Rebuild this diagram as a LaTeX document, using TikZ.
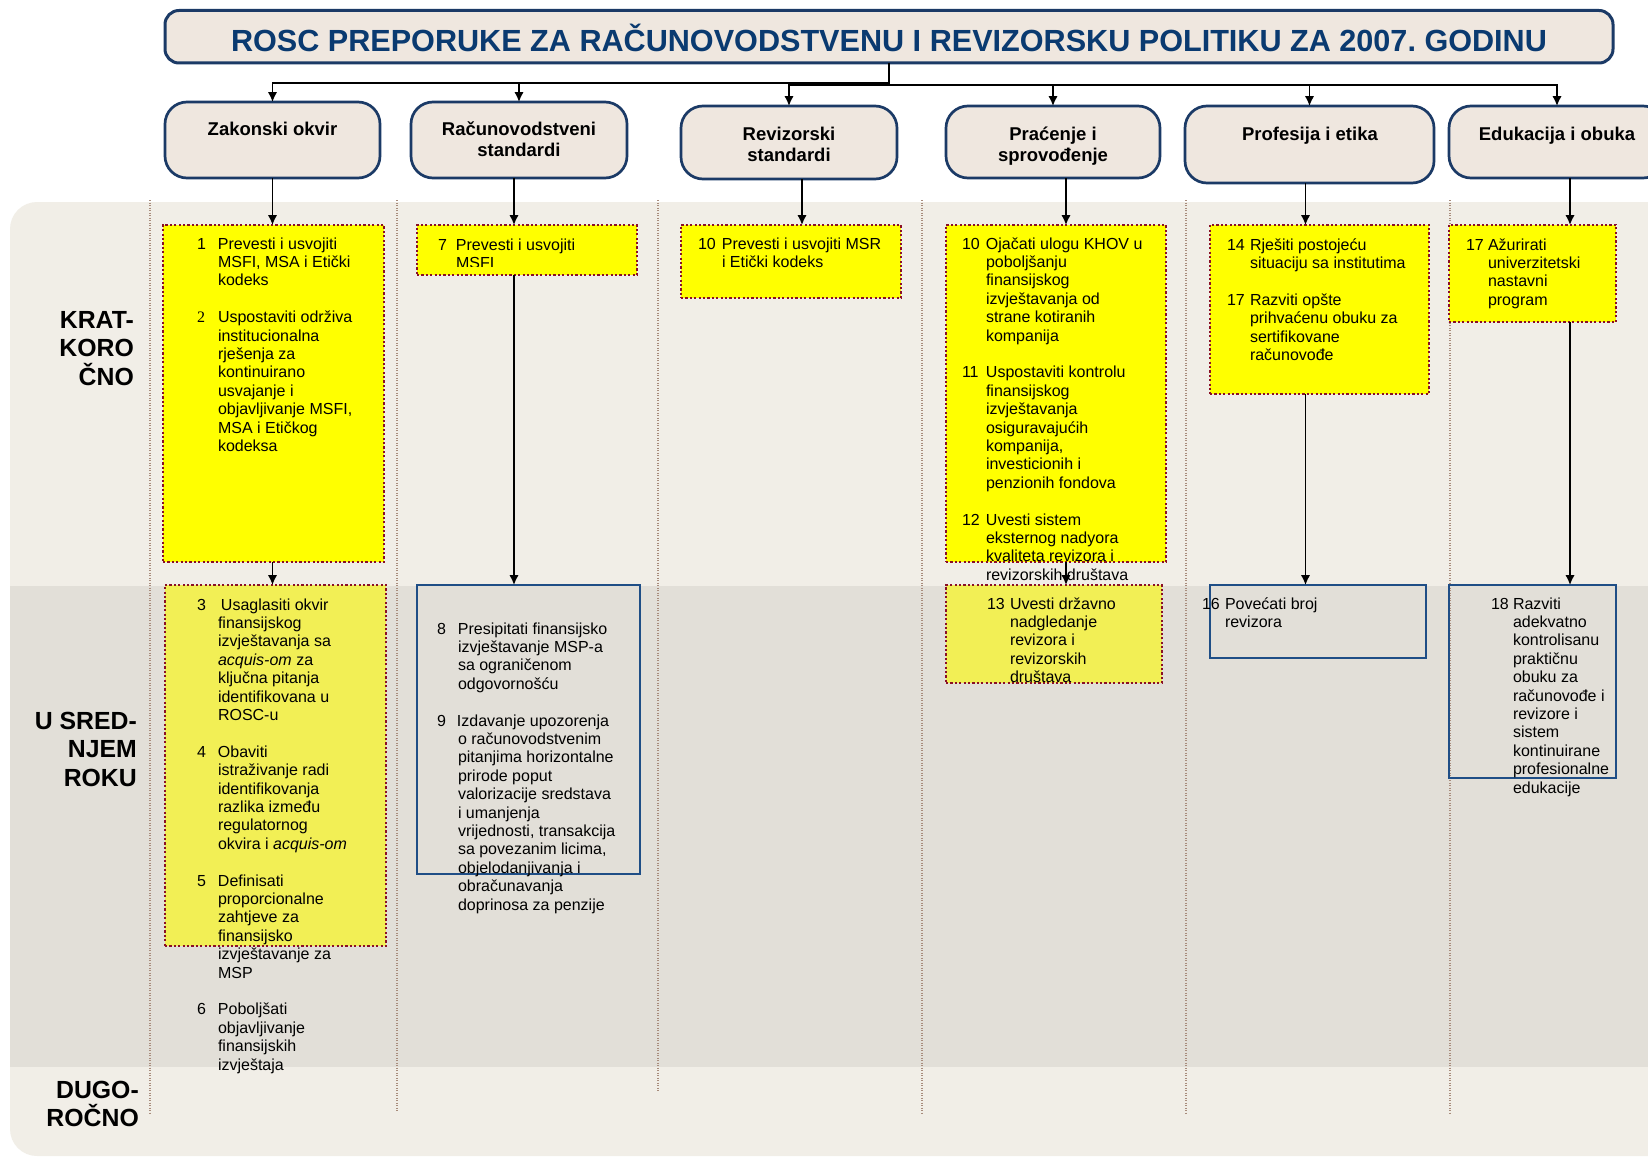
\documentclass[tikz,border=0pt]{standalone}
\usepackage{fontspec}
\setmainfont{Liberation Sans}
\newfontfamily\serifnum{Liberation Serif}
\usetikzlibrary{arrows.meta}
\frenchspacing
\definecolor{navy}{HTML}{1B3A66}
\definecolor{titleblue}{HTML}{0A3A70}
\definecolor{beige}{HTML}{EFE7DF}
\definecolor{panel}{HTML}{F1EEE7}
\definecolor{band}{HTML}{E2DFD8}
\definecolor{yel}{HTML}{FFFF00}
\definecolor{paleyel}{HTML}{F2EF55}
\definecolor{dotred}{HTML}{8A1025}
\definecolor{boxblue}{HTML}{1F4E86}
\definecolor{divider}{HTML}{A88C7C}
\newdimen\numw
\newcommand\fl[2]{\hbox{\hbox to\numw{#1\hfil}#2}}
\newcommand\cl[1]{\hbox{\hskip\numw\relax #1}}
\newcommand\el{\hbox{}}
\newcommand\itemtext[2]{{\fontsize{16}{18.4}\selectfont\lineskiplimit=-100pt\numw=#1pt\relax\vtop{#2}}}
\newcommand\clab[1]{{\lineskiplimit=-100pt\vtop{\halign{\hfil##\hfil\cr#1}}}}
\newcommand\rlab[1]{{\lineskiplimit=-100pt\vtop{\halign{\hfil##\cr#1}}}}
\newcommand\rbox[6]{\node[#1, minimum width={(#4)-(#2)}, minimum height={(#5)-(#3)}] (#6) at ({((#2)+(#4))/2},{((#3)+(#5))/2}) {};}
\tikzset{
  titlebox/.style={draw=navy, fill=beige, line width=3pt, rounded corners=14pt, inner sep=0pt, outer sep=0pt},
  catbox/.style={draw=navy, fill=beige, line width=2.7pt, rounded corners=22pt, inner sep=0pt, outer sep=0pt},
  ybox/.style={draw=dotred, fill=yel, line width=2.2pt, dash pattern=on 2.2pt off 2.2pt, inner sep=0pt, outer sep=0pt},
  pybox/.style={ybox, fill=paleyel},
  bbox/.style={draw=boxblue, line width=2.2pt, inner sep=0pt, outer sep=0pt},
  itm/.style={anchor=base west, inner sep=0pt, outer sep=0pt},
  ctext/.style={anchor=base, inner sep=0pt, font=\fontsize{18.5}{21}\selectfont\bfseries},
  rtext/.style={anchor=base east, inner sep=0pt, font=\fontsize{24.8}{28.7}\selectfont\bfseries},
  divline/.style={draw=divider, line width=1.1pt, dash pattern=on 1pt off 1.5pt},
  conn/.style={draw=black, line width=1.8pt},
  arr/.style={conn, -{Latex[length=10pt,width=9.5pt]}}
}
\begin{document}
\begin{tikzpicture}[x=1pt,y=-1pt]
\useasboundingbox (0,0) rectangle (1648,1156);
\clip (0,0) rectangle (1648,1156);
\fill[white] (0,0) rectangle (1648,1156);
% background panel and middle band
\fill[panel, rounded corners=27pt] (10,202) rectangle (1690,1156);
\fill[band] (10,586) rectangle (1690,1067);
% column dividers
\draw[divline] (150,200) -- (150,1113);
\draw[divline] (397,200) -- (397,1111);
\draw[divline] (658,200) -- (658,1092);
\draw[divline] (922,200) -- (922,1115);
\draw[divline] (1186,200) -- (1186,1115);
\draw[divline] (1450,200) -- (1450,1115);
% row labels
\node[rtext] (lab1) at (134,328) {\rlab{KRAT-\cr KORO\cr ČNO\cr}};
\node[rtext] (lab2) at (137,729) {\rlab{U SRED-\cr NJEM\cr ROKU\cr}};
\node[rtext] (lab3) at (139,1098) {\rlab{DUGO-\cr ROČNO\cr}};
% title
\rbox{titlebox}{165}{10.5}{1613}{63}{title}
\node[anchor=base, inner sep=0pt, font=\fontsize{30.6}{36}\selectfont\bfseries, text=titleblue] (titleT) at (889,52) {ROSC PREPORUKE ZA RAČUNOVODSTVENU I REVIZORSKU POLITIKU ZA 2007. GODINU};
% category boxes
\rbox{catbox}{165}{102}{380}{178}{zak}
\rbox{catbox}{411}{102}{627}{178}{rac}
\rbox{catbox}{681}{106}{897}{179}{rev}
\rbox{catbox}{946}{106}{1160}{178}{prac}
\rbox{catbox}{1185}{106}{1434}{183}{prof}
\rbox{catbox}{1449}{106}{1665}{178}{edu}
\node[ctext] (zakT) at (272.5,135) {\clab{Zakonski okvir\cr}};
\node[ctext] (racT) at (519,135) {\clab{Računovodstveni\cr standardi\cr}};
\node[ctext] (revT) at (789,140) {\clab{Revizorski\cr standardi\cr}};
\node[ctext] (pracT) at (1053,140) {\clab{Praćenje i\cr sprovođenje\cr}};
\node[ctext] (profT) at (1310,140) {\clab{Profesija i etika\cr}};
\node[ctext] (eduT) at (1557,140) {\clab{Edukacija i obuka\cr}};
% item boxes
\rbox{ybox}{163}{225}{384}{562}{b1}
\rbox{ybox}{417}{225}{637}{275}{b7}
\rbox{ybox}{681}{225}{901}{298}{b10}
\rbox{ybox}{946}{225}{1166}{562}{b11}
\rbox{ybox}{1210}{225}{1429}{394}{b14}
\rbox{ybox}{1449}{225}{1616}{322}{b17}
\rbox{pybox}{165}{585}{386}{946}{b3}
\rbox{bbox}{417}{585}{640}{874}{b8}
\rbox{pybox}{946}{585}{1162}{683}{b13}
\rbox{bbox}{1210}{585}{1426}{658}{b16}
\rbox{bbox}{1449}{585}{1616}{778}{b18}
% item texts
\node[itm] (t1) at (197,249) {\itemtext{21}{%
\fl{1}{Prevesti i usvojiti}
\cl{MSFI, MSA i Etički}
\cl{kodeks}
\el
\fl{{\serifnum 2}}{Uspostaviti održiva}
\cl{institucionalna}
\cl{rješenja za}
\cl{kontinuirano}
\cl{usvajanje i}
\cl{objavljivanje MSFI,}
\cl{MSA i Etičkog}
\cl{kodeksa}}};
\begin{scope}
\clip (417,225) rectangle (637,266);
\node[itm] (t7) at (438,250) {\itemtext{18}{%
\fl{7}{Prevesti i usvojiti}
\cl{MSFI}}};
\end{scope}
\node[itm] (t10) at (698,249) {\itemtext{24}{%
\fl{10}{Prevesti i usvojiti MSR}
\cl{i Etički kodeks}}};
\node[itm] (t11) at (962,249) {\itemtext{24}{%
\fl{10}{Ojačati ulogu KHOV u}
\cl{poboljšanju}
\cl{finansijskog}
\cl{izvještavanja od}
\cl{strane kotiranih}
\cl{kompanija}
\el
\fl{11}{Uspostaviti kontrolu}
\cl{finansijskog}
\cl{izvještavanja}
\cl{osiguravajućih}
\cl{kompanija,}
\cl{investicionih i}
\cl{penzionih fondova}
\el
\fl{12}{Uvesti sistem}
\cl{eksternog nadyora}
\cl{kvaliteta revizora i}
\cl{revizorskih društava}}};
\node[itm] (t14) at (1227,250) {\itemtext{23}{%
\fl{14}{Rješiti postojeću}
\cl{situaciju sa institutima}
\el
\fl{17}{Razviti opšte}
\cl{prihvaćenu obuku za}
\cl{sertifikovane}
\cl{računovođe}}};
\node[itm] (t17) at (1466,250) {\itemtext{22}{%
\fl{17}{Ažurirati}
\cl{univerzitetski}
\cl{nastavni}
\cl{program}}};
\node[itm] (t3) at (197,610) {\itemtext{21}{%
\fl{3}{\hskip3pt Usaglasiti okvir}
\cl{finansijskog}
\cl{izvještavanja sa}
\cl{\textit{acquis-om} za}
\cl{ključna pitanja}
\cl{identifikovana u}
\cl{ROSC-u}
\el
\fl{4}{Obaviti}
\cl{istraživanje radi}
\cl{identifikovanja}
\cl{razlika između}
\cl{regulatornog}
\cl{okvira i \textit{acquis-om}}
\el
\fl{5}{Definisati}
\cl{proporcionalne}
\cl{zahtjeve za}
\cl{finansijsko}
\cl{izvještavanje za}
\cl{MSP}
\el
\fl{6}{Poboljšati}
\cl{objavljivanje}
\cl{finansijskih}
\cl{izvještaja}}};
\node[itm] (t8) at (437,634) {\itemtext{21}{%
\fl{8}{Presipitati finansijsko}
\cl{izvještavanje MSP-a}
\cl{sa ograničenom}
\cl{odgovornošću}
\el
\fl{9}{\hskip-1pt Izdavanje upozorenja}
\cl{o računovodstvenim}
\cl{pitanjima horizontalne}
\cl{prirode poput}
\cl{valorizacije sredstava}
\cl{i umanjenja}
\cl{vrijednosti, transakcija}
\cl{sa povezanim licima,}
\cl{objelodanjivanja i}
\cl{obračunavanja}
\cl{doprinosa za penzije}}};
\node[itm] (t13) at (987,609) {\itemtext{23}{%
\fl{13}{Uvesti državno}
\cl{nadgledanje}
\cl{revizora i}
\cl{revizorskih}
\cl{društava}}};
\node[itm] (t16) at (1202,609) {\itemtext{23}{%
\fl{16}{Povećati broj}
\cl{revizora}}};
\node[itm] (t18) at (1491,609) {\itemtext{22}{%
\fl{18}{Razviti}
\cl{adekvatno}
\cl{kontrolisanu}
\cl{praktičnu}
\cl{obuku za}
\cl{računovođe i}
\cl{revizore i}
\cl{sistem}
\cl{kontinuirane}
\cl{profesionalne}
\cl{edukacije}}};
% connectors from title
\path (title.south) ++(0,20) coordinate (jA);
\path (title.south) ++(0,22) coordinate (jB);
\draw[conn] (title.south) -- (jB);
\draw[arr] (jA) -| (zak.north);
\draw[arr] (jA) -| (rac.north);
\draw[arr] (jB) -| (rev.north);
\draw[arr] (jB) -| (prac.north);
\draw[arr] (jB) -| (prof.north);
\draw[arr] (jB) -| (edu.north);
% column connectors
\path (zak.south) coordinate (zakA);
\path (rac.south) ++(-5,0) coordinate (racA);
\path (rev.south) ++(13,0) coordinate (revA);
\path (prac.south) ++(13,0) coordinate (pracA);
\path (prof.south) ++(-4,0) coordinate (profA);
\path (edu.south) ++(13,0) coordinate (eduA);
\draw[arr] (zakA) -- (zakA |- b1.north);
\draw[arr] (zakA |- b1.south) -- (zakA |- b3.north);
\draw[arr] (racA) -- (racA |- b7.north);
\draw[arr] (racA |- b7.south) -- (racA |- b8.north);
\draw[arr] (revA) -- (revA |- b10.north);
\draw[arr] (pracA) -- (pracA |- b11.north);
\draw[arr] (pracA |- b11.south) -- (pracA |- b13.north);
\draw[arr] (profA) -- (profA |- b14.north);
\draw[arr] (profA |- b14.south) -- (profA |- b16.north);
\draw[arr] (eduA) -- (eduA |- b17.north);
\draw[arr] (eduA |- b17.south) -- (eduA |- b18.north);
\end{tikzpicture}
\end{document}
